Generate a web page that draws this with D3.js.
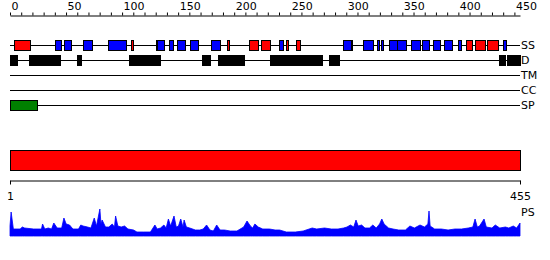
<!DOCTYPE html>
<html>
<head>
<meta charset="utf-8">
<script src="https://cdn.jsdelivr.net/npm/d3@7"></script>
<style>
  body { margin: 0; background: #fff; }
  text { font-family: "DejaVu Sans", sans-serif; font-size: 11px; fill: #000; }
</style>
</head>
<body>
<div id="chart"></div>
<script>
// sequence + axis labels
const seqLength = 455;
const topTickLabels = [0, 50, 100, 150, 200, 250, 300, 350, 400, 450];
const bottomTickLabels = [1, 455];
const trackNames = ["SS", "D", "TM", "CC", "SP"];

// secondary structure segments (red / blue)
const ssStart = [4, 40, 48, 65, 87, 108, 130, 131, 142, 149, 161, 179, 194, 213, 224, 240, 246, 255, 297, 304, 315, 327, 331, 338, 345, 358, 368, 377, 387, 400, 407, 415, 426, 440];
const ssEnd   = [18, 45, 54, 73, 103, 110, 131, 137, 146, 156, 168, 187, 196, 221, 232, 244, 248, 259, 304, 305, 324, 329, 333, 345, 353, 366, 374, 383, 394, 403, 412, 424, 436, 443];
const ssType  = ["H", "E", "E", "E", "E", "H", "H", "E", "E", "E", "E", "E", "H", "H", "H", "E", "H", "H", "E", "H", "E", "E", "E", "E", "E", "E", "E", "E", "E", "E", "H", "H", "H", "E"];

// disordered regions
const disStart = [0, 17, 44, 60, 106, 171, 186, 232, 285, 436, 443];
const disEnd   = [6, 43, 45, 64, 134, 178, 209, 278, 294, 441, 455];

// signal peptide
const spStart = [0];
const spEnd = [24];

// full-length domain bar
const domStart = [1];
const domEnd = [455];

// per-residue profile (PS)
const psRes = [1, 2, 4, 10, 12, 14, 22, 29, 30, 32, 35, 38, 40, 43, 47, 49, 51, 54, 57, 62, 64, 66, 70, 73, 76, 78, 81, 82, 83, 86, 89, 92, 94, 95, 97, 100, 103, 106, 111, 114, 120, 126, 130, 132, 135, 138, 140, 142, 144, 147, 149, 151, 153, 155, 156, 158, 161, 166, 170, 173, 176, 179, 182, 185, 188, 192, 197, 203, 209, 212, 215, 217, 219, 222, 226, 232, 237, 241, 247, 255, 262, 270, 274, 281, 287, 293, 298, 301, 304, 307, 309, 311, 314, 317, 321, 324, 327, 330, 332, 334, 338, 342, 347, 353, 357, 361, 366, 370, 373, 374, 375, 379, 385, 391, 397, 403, 409, 413, 415, 417, 419, 423, 425, 430, 433, 437, 442, 445, 449, 452, 455];
const psVal = [10, 24, 7, 7, 9, 8, 7, 7, 12, 7, 8, 7, 13, 8, 8, 18, 12, 11, 7, 7, 11, 10, 9, 8, 18, 10, 27, 12, 16, 9, 9, 12, 9, 20, 10, 9, 10, 7, 6, 4, 4, 4, 11, 7, 8, 11, 8, 17, 10, 20, 9, 10, 17, 9, 16, 9, 8, 6, 6, 7, 11, 6, 5, 11, 6, 6, 5, 5, 9, 15, 10, 8, 12, 9, 7, 7, 6, 6, 4, 4, 5, 8, 7, 8, 7, 7, 8, 9, 11, 9, 16, 10, 11, 8, 8, 11, 8, 12, 17, 12, 8, 7, 6, 6, 10, 8, 11, 9, 12, 25, 10, 7, 7, 6, 7, 7, 8, 9, 17, 9, 10, 17, 9, 8, 11, 8, 9, 8, 10, 8, 13];

const width = 550, height = 260;

const svg = d3.select("#chart")
  .append("svg")
  .attr("width", width)
  .attr("height", height);

const x = d3.scaleLinear().domain([0, seqLength]).range([10, 520]);
const xb = d3.scaleLinear().domain([1, seqLength]).range([10, 520]);
const trackY = d3.scalePoint().domain(trackNames).range([45, 105]);

// top ruler
const topAxis = svg.append("g")
  .attr("transform", "translate(0,15.5)")
  .call(d3.axisTop(x)
    .tickValues(d3.range(0, 451, 10))
    .tickSize(3)
    .tickSizeOuter(0)
    .tickPadding(3)
    .tickFormat(d => topTickLabels.includes(d) ? d : ""));
topAxis.selectAll("text")
  .attr("text-anchor", "start")
  .attr("dx", 1)
  .style("font-family", "DejaVu Sans")
  .style("font-size", "11px");
topAxis.selectAll("path, line").attr("stroke", "#000");

// track base lines
svg.selectAll(".track")
  .data(trackNames)
  .enter()
  .append("line")
  .attr("x1", x(0))
  .attr("x2", x(seqLength))
  .attr("y1", d => trackY(d) + 0.5)
  .attr("y2", d => trackY(d) + 0.5)
  .attr("stroke", "#000");

svg.selectAll(".trackLabel")
  .data(trackNames)
  .enter()
  .append("text")
  .attr("x", x(seqLength) + 1)
  .attr("y", d => trackY(d) + 0.5)
  .attr("dy", "0.36em")
  .text(d => d);

// SS boxes
const ssColor = { H: "#ff0000", E: "#0000ff" };
svg.selectAll(".ss")
  .data(ssStart)
  .enter()
  .append("rect")
  .attr("x", (d, i) => Math.round(x(d)) + 0.5)
  .attr("y", trackY("SS") - 4.5)
  .attr("width", (d, i) => Math.max(1, Math.round(x(ssEnd[i]) - x(d))))
  .attr("height", 10)
  .attr("fill", (d, i) => ssColor[ssType[i]])
  .attr("stroke", "#000");

// disorder boxes
svg.selectAll(".dis")
  .data(disStart)
  .enter()
  .append("rect")
  .attr("x", (d, i) => Math.round(x(d)) + 0.5)
  .attr("y", trackY("D") - 4.5)
  .attr("width", (d, i) => Math.max(1, Math.round(x(disEnd[i]) - x(d))))
  .attr("height", 10)
  .attr("fill", "#000")
  .attr("stroke", "#000");

// signal peptide
svg.selectAll(".sp")
  .data(spStart)
  .enter()
  .append("rect")
  .attr("x", (d, i) => Math.round(x(d)) + 0.5)
  .attr("y", trackY("SP") - 4.5)
  .attr("width", (d, i) => Math.round(x(spEnd[i]) - x(d)))
  .attr("height", 10)
  .attr("fill", "#008000")
  .attr("stroke", "#000");

// domain bar
svg.selectAll(".dom")
  .data(domStart)
  .enter()
  .append("rect")
  .attr("x", d => xb(d) + 0.5)
  .attr("y", 150.5)
  .attr("width", (d, i) => xb(domEnd[i]) - xb(d))
  .attr("height", 20)
  .attr("fill", "#ff0000")
  .attr("stroke", "#000");

// bottom ruler
const bottomAxis = svg.append("g")
  .attr("transform", "translate(0,180.5)")
  .call(d3.axisBottom(xb)
    .tickValues(bottomTickLabels)
    .tickSize(4)
    .tickSizeOuter(0)
    .tickPadding(8));
bottomAxis.selectAll("text")
  .style("font-family", "DejaVu Sans")
  .style("font-size", "11px");
bottomAxis.selectAll("path, line").attr("stroke", "#000");

// PS profile
const y = d3.scaleLinear().domain([0, 30]).range([236, 206]);
const ps = psRes.map((r, i) => ({ r: r, v: psVal[i] }));

svg.append("path")
  .datum(ps)
  .attr("d", d3.area()
    .x(d => xb(d.r))
    .y0(y(0))
    .y1(d => y(d.v)))
  .attr("fill", "#0000ff")
  .attr("stroke", "#0000ff")
  .attr("stroke-width", 0.8);

svg.append("text")
  .attr("x", xb(seqLength) + 1)
  .attr("y", 216)
  .text("PS");
</script>
</body>
</html>
